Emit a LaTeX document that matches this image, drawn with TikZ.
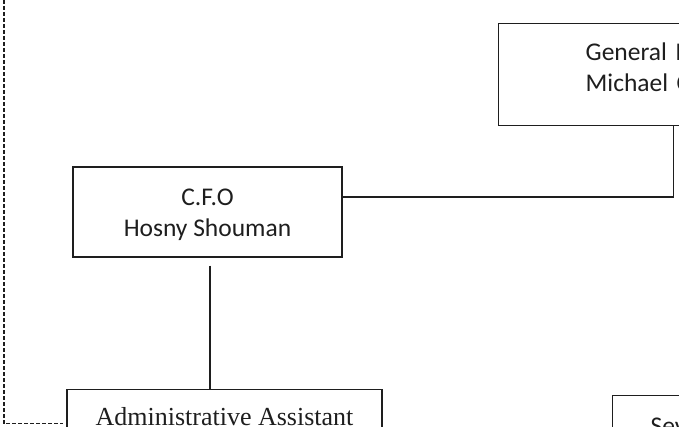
\documentclass[tikz,border=0pt]{standalone}
\usepackage{fontspec}
\setmainfont{Carlito}
\newfontfamily\timesfont{Liberation Serif}
\usepackage{tikz}
\usetikzlibrary{positioning}
\definecolor{ink}{HTML}{1E1E1E}

\begin{document}
\begin{tikzpicture}[x=1pt, y=-1pt,
      ofc/.style={rectangle, draw=ink, line width=1.3pt, text=ink,
        font=\fontsize{25.5}{31}\selectfont, align=center},
      link/.style={draw=ink, line width=1.3pt},
      dlink/.style={draw=ink, line width=1.1pt, dash pattern=on 4pt off 2pt}]

    \useasboundingbox (0,0) rectangle (679,427);
    \clip (0,0) rectangle (679,427);

    \node[ofc, anchor=north west, text width=176pt, inner xsep=87pt,
      inner ysep=19pt, text depth=46pt, align=left] (gm) at (498,23)
      {General M\\Michael C};
    \node[ofc, minimum width=269pt, minimum height=90pt, text height=53pt]
      (cfo) at (207.5,212) {C.F.O\\Hosny Shouman};
    \node[ofc, font=\timesfont\fontsize{26}{31}\selectfont, anchor=north,
      minimum width=315pt, inner ysep=18pt, text depth=30pt] (adm) at (224.5,389)
      {Administrative Assistant};
    \node[ofc, anchor=north west, align=left, inner xsep=38pt, inner ysep=22pt]
      (sev) at (612,395) {Sev};

    \draw[link] ([yshift=15pt]cfo.east) -| (gm.south);
    \draw[link, shorten <=8pt] ([xshift=2.5pt]cfo.south) -- ([xshift=2.5pt]cfo.south |- adm.north);

    \coordinate (dtop) at (4,0);
    \draw[dlink] (dtop) |- ([xshift=-3pt, yshift=2pt]adm.base west);
  \end{tikzpicture}
\end{document}
